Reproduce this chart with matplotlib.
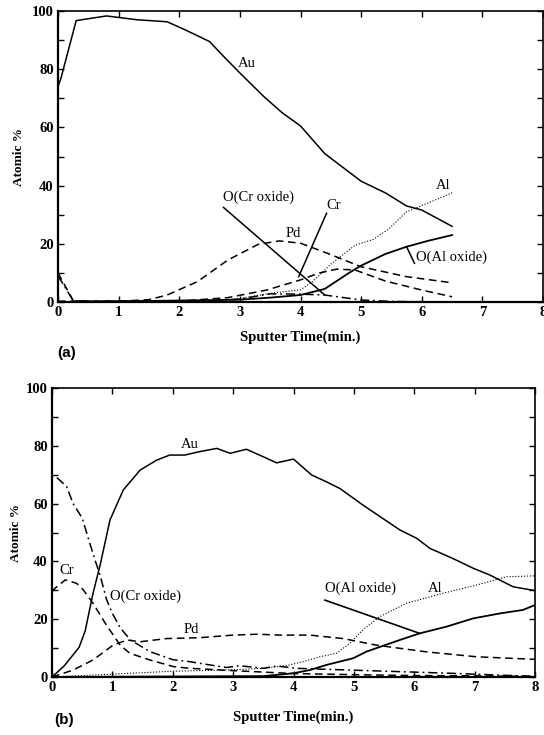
import matplotlib
matplotlib.use('Agg')
import matplotlib.pyplot as plt
from matplotlib.ticker import MultipleLocator

# ---- panel (a) data ----
au_a_x = [0, 0.05, 0.3, 0.8, 1.3, 1.8, 2.1, 2.5, 2.75, 3.0, 3.4, 3.7, 4.0, 4.4,
          5.0, 5.4, 5.75, 6.0, 6.5]
au_a_y = [74, 77, 96.7, 98.3, 97, 96.3, 93.5, 89.5, 84, 78.7, 70.5, 65, 60.5, 51,
          41.5, 37.5, 33, 31.6, 26]
pd_a_x = [0, 1.0, 1.5, 1.8, 2.3, 2.8, 3.3, 3.65, 4.0, 4.45, 5.0, 5.75, 6.5]
pd_a_y = [0.3, 0.3, 0.8, 2.4, 7, 14.4, 19.8, 21, 20.2, 16.7, 12.1, 8.7, 6.6]
cr_a_x = [0, 0.25, 0.5, 2.0, 2.8, 3.44, 4.0, 4.3, 4.6, 4.9, 5.4, 6.0, 6.5]
cr_a_y = [10, 0.5, 0.3, 0.3, 1.5, 4.1, 7.6, 9.9, 11.3, 11, 7.2, 4.1, 1.8]
ocr_a_x = [0, 0.25, 0.5, 2.5, 3.0, 3.5, 4.0, 4.4, 5.0, 5.5, 6.5]
ocr_a_y = [9, 0.5, 0.2, 0.2, 1.0, 2.8, 2.7, 2.4, 0.7, 0.2, 0]
al_a_x = [0, 2.5, 3.0, 3.5, 4.0, 4.2, 4.5, 4.9, 5.2, 5.45, 5.75, 6.1, 6.5]
al_a_y = [0, 0.3, 1.2, 3, 4.2, 7, 13, 19.5, 21.5, 25, 31, 34, 37.5]
oal_a_x = [0, 0.3, 3.0, 3.5, 4.0, 4.4, 4.8, 5.0, 5.4, 5.75, 6.1, 6.5]
oal_a_y = [0, 0, 0.8, 1.5, 2.4, 4.5, 10, 12.5, 16.5, 19, 21, 23]

# ---- panel (b) data ----
au_b_x = [0, 0.2, 0.45, 0.55, 0.68, 0.8, 0.96, 1.18, 1.46, 1.73, 1.95, 2.2, 2.45,
          2.73, 2.95, 3.22, 3.5, 3.72, 4.0, 4.3, 4.55, 4.77, 5.15, 5.76, 6.04,
          6.26, 6.64, 6.98, 7.25, 7.64, 8.0]
au_b_y = [0, 3.8, 10.3, 16, 29, 39, 54.3, 64.7, 71.6, 75, 76.8, 76.8, 78, 79.1,
          77.4, 78.8, 76.2, 74.1, 75.4, 69.9, 67.5, 65.2, 59.5, 50.9, 48, 44.5,
          41, 37.6, 35.3, 31.2, 29.9]
ocr_b_x = [0.08, 0.24, 0.35, 0.5, 0.63, 0.72, 0.8, 0.9, 1.0, 1.13, 1.3, 1.62,
           2.0, 2.28, 2.67, 2.89, 3.11, 3.5, 3.72, 4.05, 4.93, 6.59, 8.0]
ocr_b_y = [69, 66, 60, 55, 46, 40, 35, 27, 22, 17, 12.8, 8.8, 6, 5.3, 4, 3.3,
           3.9, 3.0, 3.8, 3, 2.4, 1.3, 0.2]
cr_b_x = [0, 0.05, 0.22, 0.41, 0.52, 0.68, 0.9, 1.13, 1.29, 1.62, 2.01, 2.28,
          3.0, 4.0, 5.0, 6.0, 7.0, 8.0]
cr_b_y = [29.5, 30.7, 33.6, 32.4, 30.1, 25.5, 18, 11, 8.2, 5.9, 3.6, 3.0, 2.2,
          1.2, 0.8, 0.5, 0.4, 0.2]
pd_b_x = [0, 0.35, 0.68, 1.01, 1.24, 1.46, 1.9, 2.45, 3.0, 3.4, 3.77, 4.27,
          4.82, 5.38, 6.2, 7.03, 8.0]
pd_b_y = [0, 2.4, 5.9, 11, 12.8, 12.2, 13.3, 13.6, 14.5, 14.8, 14.5, 14.5, 13.3,
          11, 8.7, 7, 6.1]
al_b_x = [0, 1.0, 2.0, 3.0, 3.5, 3.9, 4.16, 4.44, 4.71, 4.93, 5.15, 5.43, 5.87,
          6.48, 7.03, 7.53, 8.0]
al_b_y = [0, 1, 2, 2.5, 3, 4, 5.3, 7, 8.2, 11.6, 16.3, 20.9, 25.5, 29, 31.8,
          34.7, 35]
oal_b_x = [0, 3.5, 4.0, 4.27, 4.55, 4.99, 5.21, 5.76, 6.09, 6.53, 6.98, 7.42,
           7.8, 8.0]
oal_b_y = [0, 0.3, 1.3, 2.4, 4.2, 6.5, 8.8, 12.8, 15.1, 17.4, 20.3, 22, 23.2,
           24.9]

SERIF = 'Liberation Serif'
DASHED = (0, (5, 3))
DASHDOT = (0, (6, 2.5, 1.2, 2.5))
DOTTED = (0, (1, 1.6))


def style_axes(ax, ylabelpad, xlabelpad):
    ax.set_xlim(0, 8)
    ax.set_ylim(0, 100)
    ax.xaxis.set_major_locator(MultipleLocator(1))
    ax.yaxis.set_major_locator(MultipleLocator(20))
    ax.yaxis.set_minor_locator(MultipleLocator(10))
    ax.tick_params(which='both', direction='in', top=True, right=True,
                   labelsize=10.5, pad=3)
    ax.tick_params(which='major', length=4, width=1)
    ax.tick_params(which='minor', length=4, width=1)
    for lab in ax.get_xticklabels() + ax.get_yticklabels():
        lab.set_fontfamily(SERIF)
        lab.set_fontweight('bold')
    for side in ['left', 'bottom']:
        ax.spines[side].set_linewidth(1.6)
    for side in ['top', 'right']:
        ax.spines[side].set_linewidth(1.2)
    ax.set_ylabel('Atomic %', family=SERIF, fontweight='bold', fontsize=9.5,
                  labelpad=ylabelpad)
    ax.set_xlabel('Sputter Time(min.)', family=SERIF, fontweight='bold',
                  fontsize=10.5, labelpad=xlabelpad)


def main():
    fig = plt.figure(figsize=(5.44, 7.35), dpi=100)
    kw = dict(color='black')

    # Panel (a)
    ax = fig.add_axes([58 / 544, 1 - 302 / 735, 485 / 544, 291 / 735])
    ax.plot(au_a_x, au_a_y, lw=1.1, **kw)
    ax.plot(pd_a_x, pd_a_y, lw=1.1, ls=DASHED, **kw)
    ax.plot(cr_a_x, cr_a_y, lw=1.1, ls=DASHED, **kw)
    ax.plot(ocr_a_x, ocr_a_y, lw=1.1, ls=DASHDOT, **kw)
    ax.plot(al_a_x, al_a_y, lw=0.8, ls=DOTTED, **kw)
    ax.plot(oal_a_x, oal_a_y, lw=1.3, **kw)
    style_axes(ax, 5, 8)
    tk = dict(family=SERIF, fontsize=10.5, color='black')
    ax.text(3.12, 82, 'Au', ha='center', va='center', **tk)
    ax.text(2.72, 36, 'O(Cr oxide)', ha='left', va='center', **tk)
    ax.plot([2.73, 4.4], [32.5, 2.4], lw=1.1, **kw)
    ax.text(4.54, 33, 'Cr', ha='center', va='center', **tk)
    ax.plot([4.43, 3.97], [30.5, 8.7], lw=1.1, **kw)
    ax.text(3.88, 23.7, 'Pd', ha='center', va='center', **tk)
    ax.text(6.35, 40, 'Al', ha='center', va='center', **tk)
    ax.text(5.9, 15.5, 'O(Al oxide)', ha='left', va='center', **tk)
    ax.plot([5.75, 5.88], [19, 13.3], lw=1.1, **kw)
    fig.text(67 / 544, 1 - 353 / 735, '(a)', family='Liberation Sans',
             fontweight='bold', fontsize=11, ha='center', va='center')

    # Panel (b)
    ax = fig.add_axes([52 / 544, 1 - 677 / 735, 483 / 544, 289 / 735])
    ax.plot(au_b_x, au_b_y, lw=1.1, **kw)
    ax.plot(ocr_b_x, ocr_b_y, lw=1.1, ls=DASHDOT, **kw)
    ax.plot(cr_b_x, cr_b_y, lw=1.1, ls=DASHED, **kw)
    ax.plot(pd_b_x, pd_b_y, lw=1.1, ls=DASHED, **kw)
    ax.plot(al_b_x, al_b_y, lw=0.8, ls=DOTTED, **kw)
    ax.plot(oal_b_x, oal_b_y, lw=1.3, **kw)
    style_axes(ax, 3, 12)
    ax.text(2.28, 80.3, 'Au', ha='center', va='center', **tk)
    ax.text(0.24, 37, 'Cr', ha='center', va='center', **tk)
    ax.text(0.96, 27.8, 'O(Cr oxide)', ha='left', va='center', **tk)
    ax.text(2.31, 16.3, 'Pd', ha='center', va='center', **tk)
    ax.text(4.52, 30.7, 'O(Al oxide)', ha='left', va='center', **tk)
    ax.text(6.34, 30.7, 'Al', ha='center', va='center', **tk)
    ax.plot([4.52, 6.09], [26.6, 15.1], lw=1.2, **kw)
    fig.text(64 / 544, 1 - 720 / 735, '(b)', family='Liberation Sans',
             fontweight='bold', fontsize=11, ha='center', va='center')

    fig.savefig('out.png', dpi=100)


if __name__ == '__main__':
    main()
